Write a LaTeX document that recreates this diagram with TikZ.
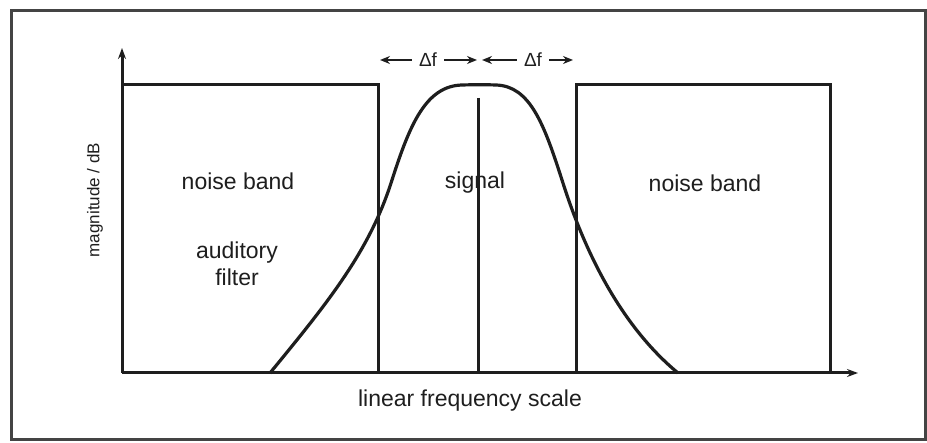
\documentclass[tikz,border=0pt]{standalone}
\usepackage{fontspec}
\setmainfont{Liberation Sans}
\usetikzlibrary{arrows.meta}
\definecolor{ink}{HTML}{1E1E1E}
\definecolor{framec}{HTML}{444444}
\tikzset{
  lbl/.style={text=ink, inner sep=0pt, font=\fontsize{23}{27}\selectfont, align=center},
  smalllbl/.style={text=ink, inner sep=0pt, font=\fontsize{17}{20}\selectfont},
  dflbl/.style={text=ink, inner sep=0pt, font=\fontsize{19}{22}\selectfont},
  ln/.style={draw=ink, line width=3pt},
  axisarrow/.style={draw=ink, line width=3pt, -{Stealth[length=11pt,width=8pt]}},
  dimarrow/.style={draw=ink, line width=2.6pt, -{Stealth[length=10pt,width=8pt]}},
  curve/.style={draw=ink, line width=3.2pt},
  framebox/.style={draw=framec, line width=3pt}
}
\begin{document}
\begin{tikzpicture}[x=1pt,y=-1pt]
\useasboundingbox (0,0) rectangle (927,443);
\draw[framebox] (11,11) rectangle (925,440);

% axes
\coordinate (O) at (122,373);
\coordinate (xend) at (858,373);
\coordinate (yend) at (122,48);
\draw[axisarrow] (O) -- (xend);
\draw[axisarrow] (O) -- (yend);

% left noise band
\coordinate (lnTL) at (122,85);
\coordinate (lnTR) at (378,85);
\coordinate (lnBR) at (378,373);
\draw[ln] (lnTL) -- (lnTR) -- (lnBR);

% right noise band
\coordinate (rnBL) at (576,373);
\coordinate (rnTL) at (576,85);
\coordinate (rnTR) at (830,85);
\coordinate (rnBR) at (830,373);
\draw[ln] (rnBL) -- (rnTL) -- (rnTR) -- (rnBR);

% signal line
\coordinate (sigT) at (478,98);
\coordinate (sigB) at (478,373);
\draw[ln] (sigT) -- (sigB);

% auditory filter curve
\coordinate (fL) at (270,373);
\coordinate (fR) at (678,373);
\draw[curve] (fL) .. controls (330,300) and (370,250) .. (392,180)
  .. controls (410,124) and (426,86) .. (462,85)
  .. controls (470,84.7) and (490,84.7) .. (496,85)
  .. controls (530,86) and (544,124) .. (562,180)
  .. controls (584,250) and (620,325) .. (fR);

% delta f
\node[dflbl] (df1) at (428,60) {Δf};
\node[dflbl] (df2) at (533,60) {Δf};
\coordinate (t1) at (380,60);
\coordinate (t2) at (477,60);
\coordinate (t3) at (482,60);
\coordinate (t4) at (573,60);
\draw[dimarrow] ([xshift=-7pt]df1.west) -- (t1);
\draw[dimarrow] ([xshift=7pt]df1.east) -- (t2);
\draw[dimarrow] ([xshift=-7pt]df2.west) -- (t3);
\draw[dimarrow] ([xshift=7pt]df2.east) -- (t4);

% labels
\node[lbl] (nbL) at (238,181) {noise band};
\node[lbl] (aud) at (237,264) {auditory\\filter};
\node[lbl] (sig) at (475,183) {signal};
\node[lbl] (nbR) at (705,183) {noise band};
\node[lbl] (xl) at (470,401) {linear frequency scale};
\node[smalllbl, rotate=90] (yl) at (95,200) {magnitude / dB};
\end{tikzpicture}
\end{document}
